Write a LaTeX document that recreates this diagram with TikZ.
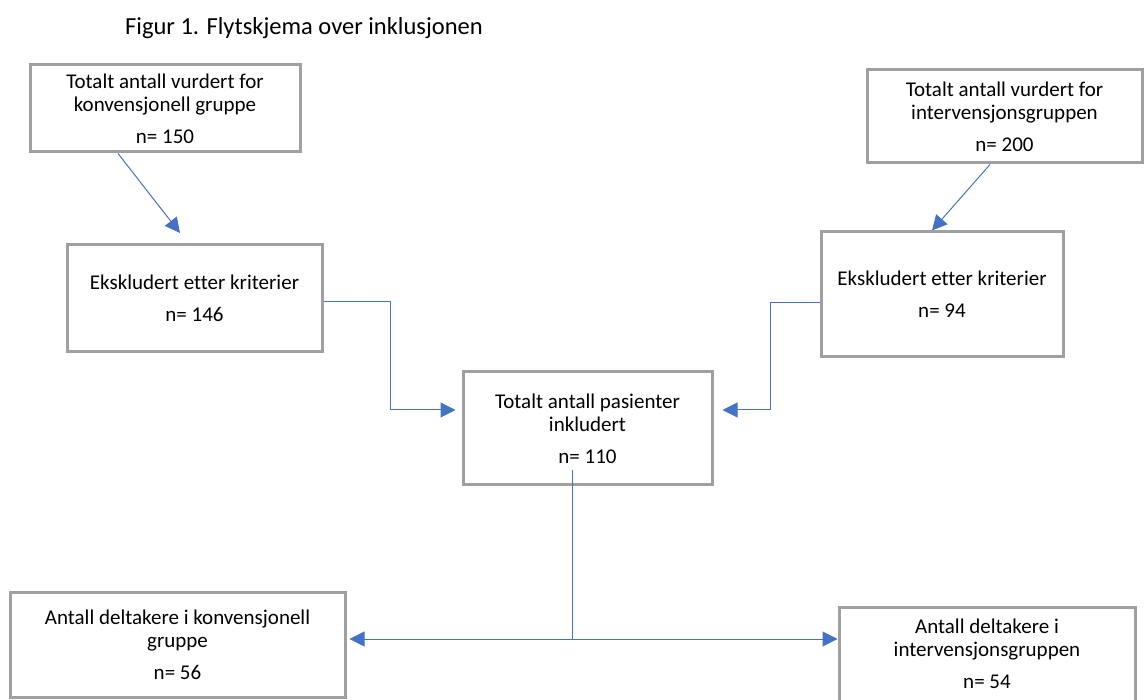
\documentclass[tikz,border=0pt]{standalone}
\usepackage{fontspec}
\setmainfont{Carlito}[Ligatures=NoCommon]
\usetikzlibrary{arrows.meta}
\definecolor{boxgray}{HTML}{A0A0A0}
\definecolor{arrblue}{HTML}{4472C4}
\begin{document}
\begin{tikzpicture}[x=1pt, y=-1pt,
	box/.style={draw=boxgray, line width=3pt, fill=white, align=center, inner sep=0pt,
		font=\fontsize{21}{23}\selectfont},
	arr/.style={draw=arrblue, line width=1pt, -{Triangle[length=15pt,width=15pt]}}]
	\useasboundingbox (0,0) rectangle (1144,700);
	\node (t) at (304, 28) {\fontsize{24.5}{28}\selectfont Figur 1. Flytskjema over inklusjonen};
	\node[box, minimum width=270, minimum height=87] (0) at (165, 108.5) {Totalt antall vurdert for\\konvensjonell gruppe\\[9pt]n= 150};
	\node[box, minimum width=275, minimum height=93] (1) at (1004.5, 116.5) {Totalt antall vurdert for\\intervensjonsgruppen\\[9pt]n= 200};
	\node[box, minimum width=255, minimum height=107] (2) at (194.5, 298.5) {Ekskludert etter kriterier\\[9pt]n= 146};
	\node[box, minimum width=242, minimum height=125] (3) at (942, 294.5) {Ekskludert etter kriterier\\[9pt]n= 94};
	\node[box, minimum width=249, minimum height=113] (4) at (587.5, 428.5) {Totalt antall pasienter\\inkludert\\[9pt]n= 110};
	\node[box, minimum width=335, minimum height=105] (5) at (177.5, 644.5) {Antall deltakere i konvensjonell\\gruppe\\[9pt]n= 56};
	\node[box, minimum width=296, minimum height=94] (6) at (987, 654) {Antall deltakere i\\intervensjonsgruppen\\[9pt]n= 54};
	
	\coordinate (e0) at (180, 233);
	\coordinate (j) at (572, 639);
	
	\path[arr]
	([xshift=-47]0.south) -- (e0);
	\path[arr]
	([xshift=-14.5]1.south) -- ([xshift=-10]3.north);
	\path[arr, shorten >=6]
	([yshift=-3.5]2.east) -- ++(67,0) |- ([yshift=18.5]4.west);
	\path[arr, shorten >=9]
	([yshift=-8.5]3.west) -- ++(-49,0) |- ([yshift=18.5]4.east);
	\path[draw=arrblue, line width=1pt]
	([xshift=-15.5,yshift=16]4.south) -- (j);
	\path[arr, shorten >=3]
	(j) -- ([yshift=5.5]5.east);
	\path[arr]
	(j) -- ([yshift=15]6.west);
\end{tikzpicture}
\end{document}
